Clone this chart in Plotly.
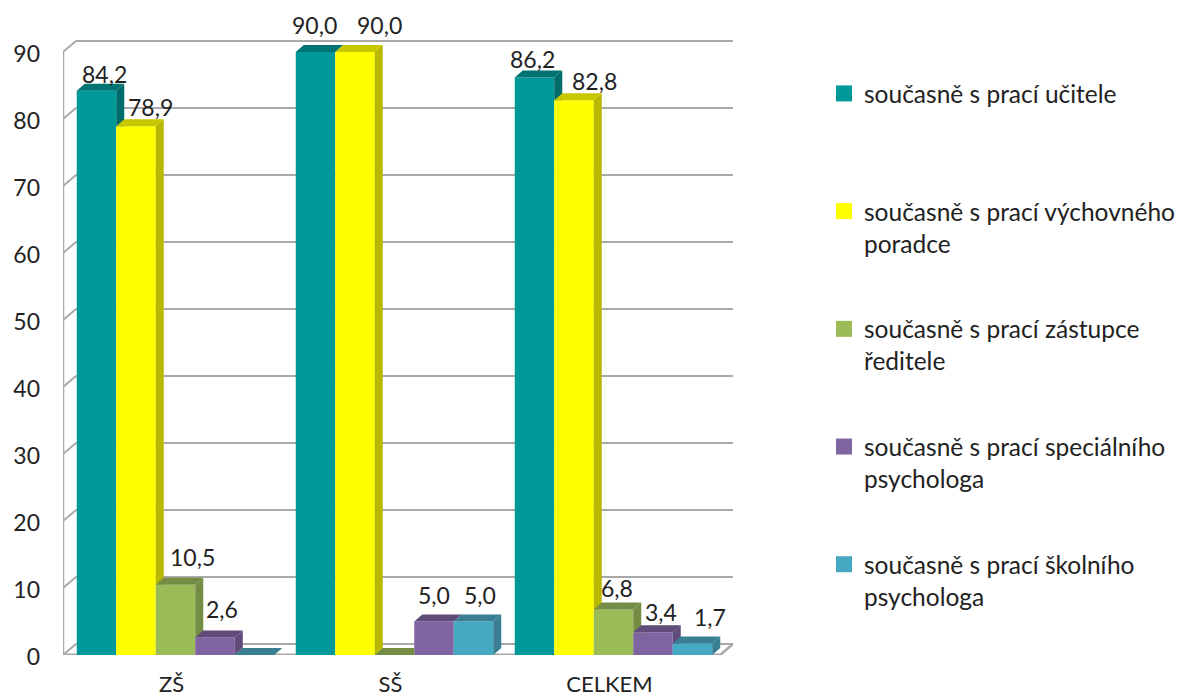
import plotly.graph_objects as go

# ---- data ----
categories = ["ZŠ", "SŠ", "CELKEM"]
series_names = [
    "současně s prací učitele<br> ",
    "současně s prací výchovného<br>poradce",
    "současně s prací zástupce<br>ředitele",
    "současně s prací speciálního<br>psychologa",
    "současně s prací školního<br>psychologa",
]
ucitele = [84.2, 90.0, 86.2]
vychovny = [78.9, 90.0, 82.8]
zastupce = [10.5, 0.0, 6.8]
specialni = [2.6, 5.0, 3.4]
skolni = [0.0, 5.0, 1.7]
y_ticks = [0, 10, 20, 30, 40, 50, 60, 70, 80, 90]

series = [ucitele, vychovny, zastupce, specialni, skolni]
front = ["#009999", "#ffff00", "#9bbb59", "#8064a2", "#45a9c4"]
side = ["#006b6b", "#b8b800", "#748c43", "#604b7a", "#387f93"]
top = ["#007373", "#c8c800", "#748c43", "#604b7a", "#387f93"]

# ---- geometry (pixels -> axis units) ----
PX_X = 219.0
PX_Y = 6.7
BAR_W = 39.5 / PX_X
DX, DY = 8 / PX_X, 7 / PX_Y        # bar depth
WX, WY = 13 / PX_X, 11 / PX_Y      # wall depth
X0 = (63 - 175.5) / PX_X
X1 = (733 - 175.5) / PX_X
Y_MAX = 655 / PX_Y

# label pixel nudges per series / category (style only)
lab_dx = [[8, -1, -2], [14, 24, 20], [17, 0, 3], [7, 0, 8], [0, 6, 17]]
lab_dy = [[17, 27, 18], [19, 27, 19], [28, 0, 21], [29, 27, 20], [0, 27, 27]]

fig = go.Figure()

for i, vals in enumerate(series):
    fig.add_trace(go.Bar(
        x=list(range(len(categories))), y=vals, name=series_names[i],
        marker=dict(color=front[i], line_width=0), showlegend=False,
        hoverinfo="skip",
    ))

for i, vals in enumerate(series):
    sx, sy, tx, ty = [], [], [], []
    for c, v in enumerate(vals):
        left = c + (i - 2.5) * BAR_W
        right = left + BAR_W
        nxt = series[i + 1][c] if i < 4 else 0.0
        # side face, hidden where the next bar stands in front of it
        if v > nxt and v > 0:
            sx += [right, right, right + DX, right + DX, right, None]
            sy += [nxt, v, v + DY, max(nxt, DY), nxt, None]
        # top face, cut where the next bar is taller
        if nxt > v:
            tx += [left, right, right, left + DX, left, None]
            ty += [v, v, v + DY, v + DY, v, None]
        else:
            tx += [left, right, right + DX, left + DX, left, None]
            ty += [v, v, v + DY, v + DY, v, None]
    fig.add_trace(go.Scatter(x=sx, y=sy, mode="lines", fill="toself", fillcolor=side[i],
                             line=dict(width=0), showlegend=False, hoverinfo="skip"))
    fig.add_trace(go.Scatter(x=tx, y=ty, mode="lines", fill="toself", fillcolor=top[i],
                             line=dict(width=0), showlegend=False, hoverinfo="skip"))

# legend keys
for i, name in enumerate(series_names):
    fig.add_trace(go.Scatter(x=[None], y=[None], mode="markers", name=name,
                             legendgroup=f"s{i}", hoverinfo="skip",
                             marker=dict(symbol="square", size=16, color=front[i])))

# walls and floor
shapes = []
GRID = "#a9a9a9"
def seg(x0, y0, x1, y1, w=2, color=GRID):
    shapes.append(dict(type="line", xref="x", yref="y", x0=x0, y0=y0, x1=x1, y1=y1,
                       line=dict(color=color, width=w), layer="below"))
for t in y_ticks:
    seg(X0, t, X0 + WX, t + WY)
    seg(X0 + WX, t + WY, X1, t + WY)
seg(X0, 0, X0, y_ticks[-1], 2.5)
seg(X0, 0, X1 - WX, 0, 3)
seg(X1 - WX, 0, X1, WY, 2.5)

# value labels
annotations = []
for i, vals in enumerate(series):
    for c, v in enumerate(vals):
        if v == 0:
            continue
        annotations.append(dict(
            x=c + (i - 2) * BAR_W, y=v, xref="x", yref="y",
            text=f"{v:.1f}".replace(".", ","), showarrow=False,
            xshift=lab_dx[i][c], yshift=lab_dy[i][c],
            font=dict(family="Lato", size=23, color="#222222"),
        ))

fig.update_layout(
    width=1180, height=699,
    margin=dict(l=63, r=447, t=0, b=44, autoexpand=False),
    paper_bgcolor="white", plot_bgcolor="white",
    barmode="group", bargap=1 - 5 * BAR_W, bargroupgap=0,
    shapes=shapes, annotations=annotations,
    font=dict(family="Lato", color="#222222"),
    showlegend=True,
    legend=dict(x=(824 - 63) / 670, xanchor="left", y=1 - 71 / 655, yanchor="top",
                valign="top", tracegroupgap=51, traceorder="grouped",
                font=dict(family="Lato", size=24.5, color="#222222"),
                bgcolor="rgba(0,0,0,0)"),
    xaxis=dict(range=[X0, X1], tickvals=list(range(len(categories))), ticktext=categories,
               showgrid=False, zeroline=False, showline=False, ticks="",
               ticklabelstandoff=14, ticklabelshift=-4,
               tickfont=dict(family="Lato", size=22, color="#222222")),
    yaxis=dict(range=[0, Y_MAX], tickvals=y_ticks, showgrid=False, zeroline=False,
               showline=False, ticks="", ticklabelstandoff=22, ticklabelshift=2,
               tickfont=dict(family="Lato", size=23, color="#222222")),
)

fig.write_html("out.html", config={"displayModeBar": False},
               post_script="document.body.style.margin='0';")
